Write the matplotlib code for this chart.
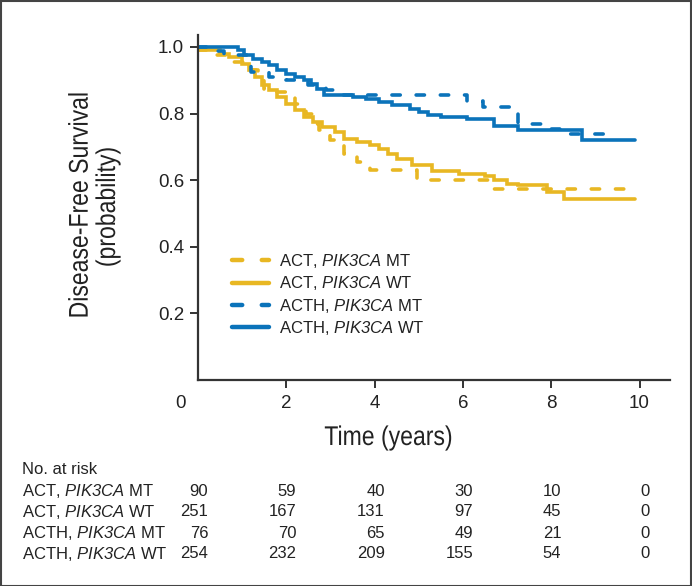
"""Kaplan-Meier style disease-free survival by arm and PIK3CA status, with risk table."""
import matplotlib
matplotlib.use('Agg')
import matplotlib.pyplot as plt
from matplotlib.patches import Rectangle, PathPatch
from matplotlib.textpath import TextPath
from matplotlib.font_manager import FontProperties
from matplotlib.transforms import Affine2D, blended_transform_factory

plt.rcParams['font.family'] = ['Liberation Sans', 'DejaVu Sans']
plt.rcParams['mathtext.fontset'] = 'custom'
plt.rcParams['mathtext.rm'] = 'Liberation Sans:italic'
plt.rcParams['mathtext.it'] = 'Liberation Sans:italic'

YELLOW = '#E8B723'
BLUE = '#0B73BA'
INK = '#222222'

# ---- survival curves (step, post) ----
act_mt_t = [0, 0.4, 0.8, 1.1, 1.35, 1.5, 1.8, 2.2, 2.45, 2.6, 2.75, 3.0, 3.3, 3.6, 3.9, 4.95, 6.6, 9.9]
act_mt_s = [0.99, 0.975, 0.955, 0.93, 0.90, 0.875, 0.865, 0.83, 0.80, 0.77, 0.75, 0.72, 0.68, 0.655,
            0.63, 0.60, 0.575, 0.575]

act_wt_t = [0, 0.5, 0.7, 1.0, 1.15, 1.3, 1.45, 1.6, 1.8, 2.0, 2.2, 2.4, 2.6, 2.8, 3.1, 3.3, 3.6, 3.9,
            4.1, 4.3, 4.5, 4.85, 5.3, 5.9, 6.5, 6.7, 7.0, 7.25, 7.9, 8.3, 9.9]
act_wt_s = [0.99, 0.98, 0.97, 0.95, 0.93, 0.91, 0.885, 0.87, 0.85, 0.83, 0.81, 0.79, 0.775, 0.76,
            0.745, 0.725, 0.715, 0.705, 0.695, 0.68, 0.665, 0.645, 0.628, 0.62, 0.612, 0.60, 0.59,
            0.585, 0.565, 0.545, 0.545]

acth_mt_t = [0, 0.4, 0.6, 1.1, 1.2, 1.6, 2.0, 2.5, 2.9, 3.2, 6.1, 6.45, 7.25, 7.8, 8.2, 9.4]
acth_mt_s = [1.0, 0.987, 0.975, 0.95, 0.925, 0.91, 0.90, 0.885, 0.87, 0.855, 0.838, 0.82, 0.768,
             0.755, 0.74, 0.74]

acth_wt_t = [0, 0.9, 1.05, 1.25, 1.45, 1.6, 1.8, 2.0, 2.2, 2.4, 2.55, 2.7, 2.85, 3.5, 3.8, 4.1, 4.4,
             4.8, 5.0, 5.2, 5.5, 6.1, 6.7, 7.25, 8.7, 9.9]
acth_wt_s = [1.0, 0.99, 0.975, 0.965, 0.955, 0.945, 0.93, 0.92, 0.91, 0.90, 0.89, 0.875, 0.855, 0.85,
             0.845, 0.835, 0.825, 0.815, 0.805, 0.795, 0.79, 0.783, 0.762, 0.75, 0.722, 0.722]

group_labels = ['ACT, $PIK3CA$ MT', 'ACT, $PIK3CA$ WT',
                'ACTH, $PIK3CA$ MT', 'ACTH, $PIK3CA$ WT']

# ---- risk table ----
risk_times = [0, 2, 4, 6, 8, 10]
risk_act_mt = [90, 59, 40, 30, 10, 0]
risk_act_wt = [251, 167, 131, 97, 45, 0]
risk_acth_mt = [76, 70, 65, 49, 21, 0]
risk_acth_wt = [254, 232, 209, 155, 54, 0]

W, H = 692, 586
fig = plt.figure(figsize=(W / 100, H / 100), dpi=100)
ax = fig.add_axes([198 / W, 1 - 380 / H, (670 - 198) / W, (380 - 35) / H])


def cond_text(s, cx, cy, size, sx=0.85, rot=0):
    # condensed look: squeeze a regular sans glyph path horizontally
    tp = TextPath((0, 0), s, size=size, prop=FontProperties(family='Liberation Sans'))
    bb = tp.get_extents()
    tr = (Affine2D().translate(-(bb.x0 + bb.x1) / 2, -(bb.y0 + bb.y1) / 2)
          .scale(sx * 100 / 72, 100 / 72).rotate_deg(rot).translate(cx, H - cy))
    fig.patches.append(PathPatch(tp, transform=tr, facecolor=INK, edgecolor='none'))


curves = [(act_mt_t, act_mt_s, YELLOW, True),
          (act_wt_t, act_wt_s, YELLOW, False),
          (acth_mt_t, acth_mt_s, BLUE, True),
          (acth_wt_t, acth_wt_s, BLUE, False)]
for (t, s, c, dashed), lab in zip(curves, group_labels):
    line, = ax.step(t, s, where='post', color=c, lw=2.6, label=lab,
                    solid_capstyle='round', solid_joinstyle='miter')
    if dashed:
        line.set_dashes((2.3, 4.4))
        line.set_dash_capstyle('round')

ax.set_xlim(0, 10.69)
ax.set_ylim(0, 1.036)
ax.set_xticks([2, 4, 6, 8, 10])
ax.set_yticks([0.2, 0.4, 0.6, 0.8, 1.0])
ax.set_yticklabels(['0.2', '0.4', '0.6', '0.8', '1.0'])
for side in ['top', 'right']:
    ax.spines[side].set_visible(False)
for side in ['left', 'bottom']:
    ax.spines[side].set_linewidth(1.6)
    ax.spines[side].set_color('#333333')
ax.tick_params(direction='out', length=6, width=1.4, color='#333333',
               labelsize=13.5, labelcolor=INK, pad=4)
ax.tick_params(axis='x', pad=5)

fig.text(180 / W, 1 - 403 / H, '0', fontsize=13.5, color=INK, ha='center', va='center')

leg = ax.legend(loc='upper left', bbox_to_anchor=(0.058, 0.39), frameon=False, fontsize=12,
                handlelength=2.2, handletextpad=0.6, labelspacing=0.26, borderaxespad=0)
for txt in leg.get_texts():
    txt.set_color(INK)
for h in leg.get_lines():
    h.set_linewidth(3.2)

cond_text('Time (years)', 388, 438, 19.5)
cond_text('Disease-Free Survival', 78, 205, 19.5, rot=90)
cond_text('(probability)', 108, 207, 19.5, rot=90)

# risk table
fig.text(22 / W, 1 - 469 / H, 'No. at risk', fontsize=12, color=INK, ha='left', va='center')
trans = blended_transform_factory(ax.transData, fig.transFigure)
rows = [risk_act_mt, risk_act_wt, risk_acth_mt, risk_acth_wt]
for i, (lab, counts) in enumerate(zip(group_labels, rows)):
    y = 1 - (491 + 21 * i) / H
    fig.text(22 / W, y, lab, fontsize=12, color=INK, ha='left', va='center')
    for t, n in zip(risk_times, counts):
        ax.text(t + 0.23, y, str(n), transform=trans, fontsize=12, color=INK,
                ha='right', va='center', clip_on=False)

fig.patches.append(Rectangle((0.5 / W, 0.5 / H), 1 - 1.5 / W, 1 - 1.5 / H,
                             transform=fig.transFigure, fill=False, lw=1.5,
                             edgecolor='#444444'))

fig.savefig('out.png', dpi=100)
